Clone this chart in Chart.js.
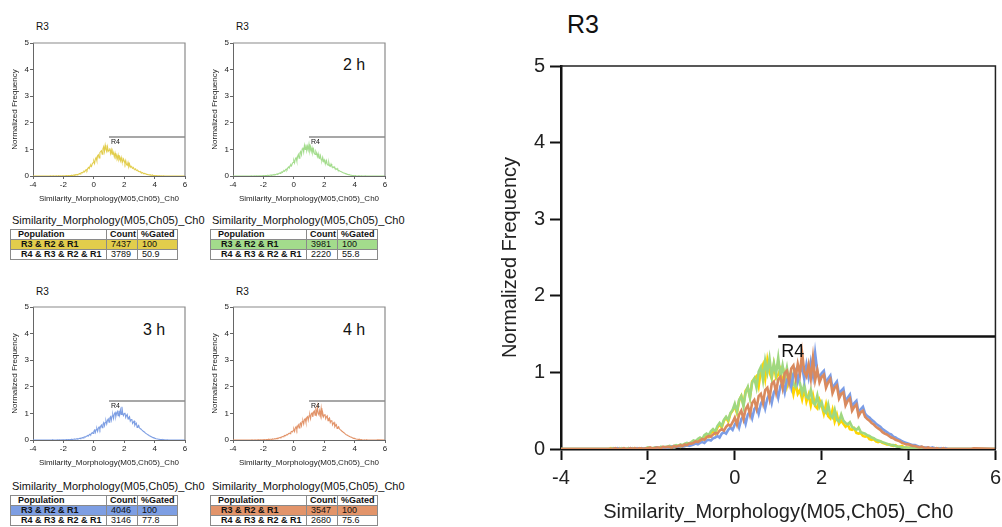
<html>
<head>
<title>R3 similarity histograms</title>
<script src="https://cdn.jsdelivr.net/npm/chart.js@4.4.1/dist/chart.umd.min.js"></script>
<style>
  body { margin: 0; background: #fff; width: 1002px; height: 527px; overflow: hidden; position: relative; font-family: "Liberation Sans", Arial, sans-serif; }
  canvas, .txt, table { position: absolute; }
  .txt { white-space: nowrap; color: #111; line-height: 1; }
  table { border-collapse: collapse; font: bold 9px "Liberation Sans", Arial, sans-serif; color: #111; table-layout: fixed; }
  td, th { border: 1px solid #8a8a8a; height: 9px; padding: 0 0 0 3px; text-align: left; line-height: 9px; overflow: hidden; white-space: nowrap; }
  td.num { font-weight: normal; padding-left: 4px; }
  td.pop { padding-left: 10px; }
  th.pop { padding-left: 7px; }
</style>
</head>
<body>
  <div class="txt" style="left:36px;top:22px;font-size:10px">R3</div>
  <div class="txt" style="left:236px;top:22px;font-size:10px">R3</div>
  <div class="txt" style="left:36px;top:287px;font-size:10px">R3</div>
  <div class="txt" style="left:236px;top:287px;font-size:10px">R3</div>
  <div class="txt" style="left:343px;top:57px;font-size:16px">2 h</div>
  <div class="txt" style="left:143px;top:322px;font-size:16px">3 h</div>
  <div class="txt" style="left:343px;top:322px;font-size:16px">4 h</div>

  <canvas id="c1" width="185" height="180" style="left:10px;top:30px"></canvas>
  <canvas id="c2" width="185" height="180" style="left:210px;top:30px"></canvas>
  <canvas id="c3" width="185" height="180" style="left:10px;top:294px"></canvas>
  <canvas id="c4" width="185" height="180" style="left:210px;top:294px"></canvas>

  <div id="tables"></div>

  <div class="txt" style="left:567px;top:12px;font-size:25px">R3</div>
  <canvas id="big" width="509" height="487" style="left:498px;top:40px"></canvas>

<script>
// histogram bins: centres from -3.00 to 5.50 in steps of 0.05 (zero outside)
var binStart = -3.0;
var binStep = 0.05;

// normalized frequency (one row = 0.5 units)
var yellowFreq = [
  0, 0, 0, 0.01, 0, 0, 0, 0.01, 0, 0,
  0, 0.01, 0, 0, 0.01, 0, 0.01, 0, 0, 0.01,
  0.01, 0, 0.01, 0.01, 0.02, 0.01, 0.01, 0.02, 0.01, 0.02,
  0.02, 0.03, 0.02, 0.03, 0.04, 0.03, 0.05, 0.04, 0.06, 0.05,
  0.07, 0.09, 0.08, 0.11, 0.13, 0.12, 0.15, 0.18, 0.16, 0.21,
  0.24, 0.20, 0.28, 0.32, 0.28, 0.37, 0.41, 0.36, 0.46, 0.50,
  0.56, 0.47, 0.63, 0.69, 0.58, 0.76, 0.80, 0.68, 0.88, 0.92,
  0.95, 0.82, 1.02, 1.10, 0.92, 1.16, 1.00, 0.92, 1.10, 0.93,
  0.97, 1.04, 0.85, 0.98, 0.82, 0.94, 0.86, 0.72, 0.86, 0.72,
  0.77, 0.65, 0.79, 0.62, 0.71, 0.57, 0.70, 0.56, 0.53, 0.64,
  0.57, 0.46, 0.58, 0.43, 0.40, 0.51, 0.36, 0.45, 0.33, 0.37,
  0.33, 0.29, 0.32, 0.26, 0.25, 0.27, 0.21, 0.20, 0.21, 0.17,
  0.16, 0.17, 0.13, 0.12, 0.13, 0.10, 0.09, 0.10, 0.08, 0.07,
  0.06, 0.06, 0.05, 0.04, 0.05, 0.03, 0.03, 0.04, 0.02, 0.02,
  0.02, 0.01, 0.02, 0.01, 0.01, 0.01, 0, 0.01, 0, 0.01,
  0, 0, 0.01, 0, 0, 0, 0, 0, 0, 0,
  0, 0, 0, 0, 0, 0, 0, 0, 0, 0,
  0
];
var greenFreq = [
  0, 0, 0, 0, 0.01, 0, 0, 0, 0.01, 0,
  0, 0.01, 0, 0.01, 0, 0.01, 0.01, 0, 0.01, 0.01,
  0.02, 0.01, 0.01, 0.02, 0.02, 0.01, 0.03, 0.02, 0.03, 0.03,
  0.04, 0.03, 0.04, 0.05, 0.04, 0.06, 0.05, 0.07, 0.08, 0.07,
  0.09, 0.11, 0.10, 0.13, 0.15, 0.13, 0.18, 0.20, 0.18, 0.23,
  0.26, 0.23, 0.30, 0.34, 0.30, 0.38, 0.42, 0.38, 0.47, 0.51,
  0.59, 0.49, 0.64, 0.69, 0.56, 0.74, 0.81, 0.67, 0.87, 0.92,
  0.80, 1.01, 1.07, 0.90, 1.15, 1.00, 1.18, 0.95, 1.12, 0.98,
  1.19, 0.95, 1.09, 0.92, 1.06, 0.88, 1.00, 0.85, 0.81, 0.93,
  0.86, 0.73, 0.84, 0.68, 0.66, 0.77, 0.61, 0.58, 0.70, 0.55,
  0.61, 0.50, 0.47, 0.58, 0.44, 0.41, 0.51, 0.38, 0.36, 0.45,
  0.37, 0.34, 0.32, 0.35, 0.29, 0.27, 0.25, 0.28, 0.22, 0.21,
  0.20, 0.18, 0.17, 0.15, 0.14, 0.12, 0.11, 0.10, 0.09, 0.08,
  0.07, 0.06, 0.05, 0.05, 0.04, 0.03, 0.03, 0.02, 0.02, 0.02,
  0.01, 0.02, 0.01, 0.01, 0, 0.01, 0.01, 0, 0, 0.01,
  0, 0, 0, 0, 0.01, 0, 0, 0, 0, 0,
  0, 0, 0, 0, 0, 0, 0, 0, 0, 0,
  0
];
var blueFreq = [
  0, 0, 0, 0, 0, 0, 0.01, 0, 0, 0,
  0, 0, 0.01, 0, 0, 0.01, 0, 0.01, 0, 0.01,
  0.01, 0.01, 0, 0.01, 0.02, 0.01, 0.01, 0.02, 0.01, 0.02,
  0.02, 0.03, 0.02, 0.03, 0.03, 0.04, 0.03, 0.04, 0.05, 0.04,
  0.05, 0.06, 0.07, 0.06, 0.08, 0.09, 0.08, 0.11, 0.12, 0.11,
  0.14, 0.15, 0.17, 0.15, 0.20, 0.22, 0.20, 0.25, 0.28, 0.25,
  0.32, 0.37, 0.28, 0.39, 0.43, 0.33, 0.45, 0.49, 0.40, 0.52,
  0.56, 0.46, 0.59, 0.65, 0.53, 0.66, 0.72, 0.60, 0.74, 0.79,
  0.67, 0.82, 0.87, 0.74, 0.90, 0.95, 0.81, 0.98, 1.03, 0.88,
  1.01, 1.07, 0.91, 1.10, 0.94, 1.13, 0.96, 1.25, 1.01, 0.92,
  0.99, 1.02, 0.85, 0.92, 0.96, 0.79, 0.84, 0.88, 0.71, 0.76,
  0.79, 0.62, 0.67, 0.71, 0.55, 0.60, 0.63, 0.47, 0.52, 0.55,
  0.46, 0.43, 0.41, 0.38, 0.36, 0.33, 0.31, 0.29, 0.26, 0.24,
  0.22, 0.20, 0.19, 0.16, 0.15, 0.13, 0.12, 0.10, 0.09, 0.08,
  0.07, 0.06, 0.05, 0.05, 0.04, 0.03, 0.03, 0.02, 0.02, 0.02,
  0.01, 0.02, 0.01, 0.01, 0, 0.01, 0, 0.01, 0, 0,
  0, 0, 0, 0, 0, 0, 0, 0, 0, 0,
  0
];
var orangeFreq = [
  0, 0, 0, 0, 0, 0.01, 0, 0, 0, 0.01,
  0, 0, 0.01, 0, 0.01, 0, 0.01, 0.01, 0, 0.01,
  0.01, 0.02, 0.01, 0.01, 0.02, 0.02, 0.01, 0.03, 0.02, 0.03,
  0.03, 0.02, 0.04, 0.03, 0.04, 0.05, 0.04, 0.06, 0.05, 0.07,
  0.07, 0.08, 0.10, 0.09, 0.11, 0.13, 0.12, 0.15, 0.17, 0.16,
  0.19, 0.21, 0.20, 0.24, 0.26, 0.24, 0.29, 0.32, 0.30, 0.35,
  0.41, 0.32, 0.45, 0.50, 0.39, 0.52, 0.57, 0.45, 0.60, 0.64,
  0.53, 0.69, 0.72, 0.60, 0.77, 0.80, 0.66, 0.85, 0.88, 0.74,
  0.91, 0.94, 0.80, 0.99, 1.02, 0.87, 1.05, 1.09, 0.93, 1.11,
  0.98, 1.25, 1.01, 0.95, 1.10, 0.92, 1.19, 0.90, 1.03, 0.87,
  0.94, 0.97, 0.80, 0.87, 0.91, 0.73, 0.80, 0.83, 0.66, 0.72,
  0.74, 0.57, 0.63, 0.66, 0.50, 0.55, 0.58, 0.43, 0.48, 0.50,
  0.42, 0.39, 0.37, 0.34, 0.32, 0.29, 0.27, 0.25, 0.22, 0.20,
  0.19, 0.17, 0.15, 0.14, 0.12, 0.11, 0.10, 0.08, 0.07, 0.06,
  0.06, 0.05, 0.04, 0.04, 0.03, 0.02, 0.03, 0.02, 0.01, 0.02,
  0.01, 0.01, 0, 0.01, 0, 0, 0.01, 0, 0, 0,
  0, 0, 0, 0, 0, 0, 0, 0, 0, 0,
  0.01
];

// R4 gate
var gateX = [1, 6];
var gateY = [1.47, 1.47];

var xTicks = [-4, -2, 0, 2, 4, 6];
var yTicks = [0, 1, 2, 3, 4, 5];

// stats tables
var tableTitle = "Similarity_Morphology(M05,Ch05)_Ch0";
var populations = ["R3 & R2 & R1", "R4 & R3 & R2 & R1"];
var counts = [[7437, 3789], [3981, 2220], [4046, 3146], [3547, 2680]];
var gated = [["100", "50.9"], ["100", "55.8"], ["100", "77.8"], ["100", "75.6"]];

var smallColors = ["#e2cd4c", "#a3dc8c", "#7d9ee3", "#e2946a"];
var bigColors = ["#ffd500", "#9fd880", "#7b9de6", "#d98a5e"];

Chart.defaults.font.family = '"Liberation Sans", Arial, sans-serif';

function toPoints(arr) {
  var pts = [{x: -4, y: 0}];
  for (var i = 0; i < arr.length; i++)
    pts.push({x: +(binStart + i * binStep).toFixed(2), y: arr[i]});
  pts.push({x: 6, y: 0});
  return pts;
}

function gatePoints() {
  return gateX.map(function(x, i) { return {x: x, y: gateY[i]}; });
}

// frame + R4 label
var framePlugin = {
  id: 'frame',
  afterDatasetsDraw: function(chart, args, o) {
    var ctx = chart.ctx, a = chart.chartArea;
    ctx.save();
    ctx.strokeStyle = o.color;
    ctx.lineWidth = o.width;
    ctx.beginPath();
    ctx.moveTo(a.left, a.top); ctx.lineTo(a.right, a.top); ctx.lineTo(a.right, a.bottom);
    ctx.stroke();
    var xs = chart.scales.x, ys = chart.scales.y;
    ctx.fillStyle = '#111';
    ctx.font = o.labelFont;
    ctx.textBaseline = 'middle';
    ctx.fillText('R4', xs.getPixelForValue(gateX[0]) + o.dx, ys.getPixelForValue(gateY[0]) + o.dy);
    ctx.restore();
  }
};

function makeChart(id, datasets, s) {
  new Chart(document.getElementById(id), {
    type: 'line',
    data: { datasets: datasets },
    plugins: [framePlugin],
    options: {
      responsive: false,
      animation: false,
      devicePixelRatio: 1,
      layout: { padding: { top: s.padTop, right: s.padRight, left: 0, bottom: 0 } },
      plugins: {
        legend: { display: false },
        tooltip: { enabled: false },
        frame: { color: s.frameColor, width: s.frameWidth, labelFont: s.labelFont, dx: s.dx, dy: s.dy }
      },
      elements: { point: { radius: 0 }, line: { tension: 0 } },
      scales: {
        x: {
          type: 'linear', min: -4, max: 6,
          afterFit: function(sc) { sc.height = s.xHeight; },
          afterBuildTicks: function(sc) { sc.ticks = xTicks.map(function(v) { return {value: v}; }); },
          ticks: { color: '#222', font: { size: s.tickSize }, padding: s.xTickPad, maxRotation: 0, autoSkip: false },
          grid: { drawOnChartArea: false, tickLength: s.tickLen, tickColor: s.axisColor, tickWidth: s.tickWidth },
          border: { color: s.axisColor, width: s.axisWidth },
          title: { display: true, text: tableTitle, color: '#222', font: { size: s.titleSize }, padding: { top: 0, bottom: s.xTitlePad } }
        },
        y: {
          min: 0, max: 5,
          afterFit: function(sc) { sc.width = s.yWidth; },
          afterBuildTicks: function(sc) { sc.ticks = yTicks.map(function(v) { return {value: v}; }); },
          ticks: { color: '#222', font: { size: s.tickSize }, padding: s.yTickPad },
          grid: { drawOnChartArea: false, tickLength: s.tickLen, tickColor: s.axisColor, tickWidth: s.tickWidth },
          border: { color: s.axisColor, width: s.axisWidth },
          title: { display: true, text: 'Normalized Frequency', color: '#222', font: { size: s.titleSize }, padding: 0 }
        }
      }
    }
  });
}

// small panels
var smallSeries = [yellowFreq, greenFreq, blueFreq, orangeFreq];
var smallStyle = {
  padTop: 13, padRight: 10, xHeight: 34, yWidth: 23,
  tickSize: 8, titleSize: 8, tickLen: 3, tickWidth: 1, xTickPad: 1, yTickPad: 1, xTitlePad: 6,
  axisColor: '#666', axisWidth: 1, frameColor: '#8a8a8a', frameWidth: 1.2,
  labelFont: '7px "Liberation Sans", Arial', dx: 2, dy: 5
};
for (var k = 0; k < 4; k++) {
  makeChart('c' + (k + 1), [
    { data: gatePoints(), borderColor: '#8a8a8a', borderWidth: 1.5 },
    { data: toPoints(smallSeries[k]), borderColor: smallColors[k], borderWidth: 1.1 }
  ], smallStyle);
}

// big overlay: Chart.js paints the first dataset on top, so orange comes first
makeChart('big', [
  { data: gatePoints(), borderColor: '#111', borderWidth: 2.5 },
  { data: toPoints(orangeFreq), borderColor: bigColors[3], borderWidth: 2.6 },
  { data: toPoints(blueFreq), borderColor: bigColors[2], borderWidth: 2.6 },
  { data: toPoints(greenFreq), borderColor: bigColors[1], borderWidth: 2.6 },
  { data: toPoints(yellowFreq), borderColor: bigColors[0], borderWidth: 2.6 }
], {
  padTop: 26, padRight: 7, xHeight: 78, yWidth: 63,
  tickSize: 20, titleSize: 20, tickLen: 11, tickWidth: 2, xTickPad: 6, yTickPad: 5, xTitlePad: 3,
  axisColor: '#111', axisWidth: 2.5, frameColor: '#222', frameWidth: 1.5,
  labelFont: '18px "Liberation Sans", Arial', dx: 3, dy: 16
});

// tables under the small panels
var tablePos = [[10, 229], [210, 229], [10, 495], [210, 495]];
var holder = document.getElementById('tables');
var html = '';
for (var t = 0; t < 4; t++) {
  var L = tablePos[t][0], T = tablePos[t][1];
  html += '<div class="txt" style="left:' + (L + 2) + 'px;top:' + (T - 14) + 'px;font-size:11px">' + tableTitle + '</div>';
  html += '<table style="left:' + L + 'px;top:' + T + 'px;width:167px">' +
    '<colgroup><col style="width:96px"><col style="width:31px"><col style="width:40px"></colgroup>' +
    '<tr><th class="pop">Population</th><th>Count</th><th>%Gated</th></tr>';
  for (var r = 0; r < 2; r++) {
    var bg = r === 0 ? ' style="background:' + smallColors[t] + '"' : '';
    html += '<tr' + bg + '><td class="pop">' + populations[r].replace(/&/g, '&amp;') + '</td>' +
      '<td class="num">' + counts[t][r] + '</td><td class="num">' + gated[t][r] + '</td></tr>';
  }
  html += '</table>';
}
holder.innerHTML = html;
</script>
</body>
</html>
